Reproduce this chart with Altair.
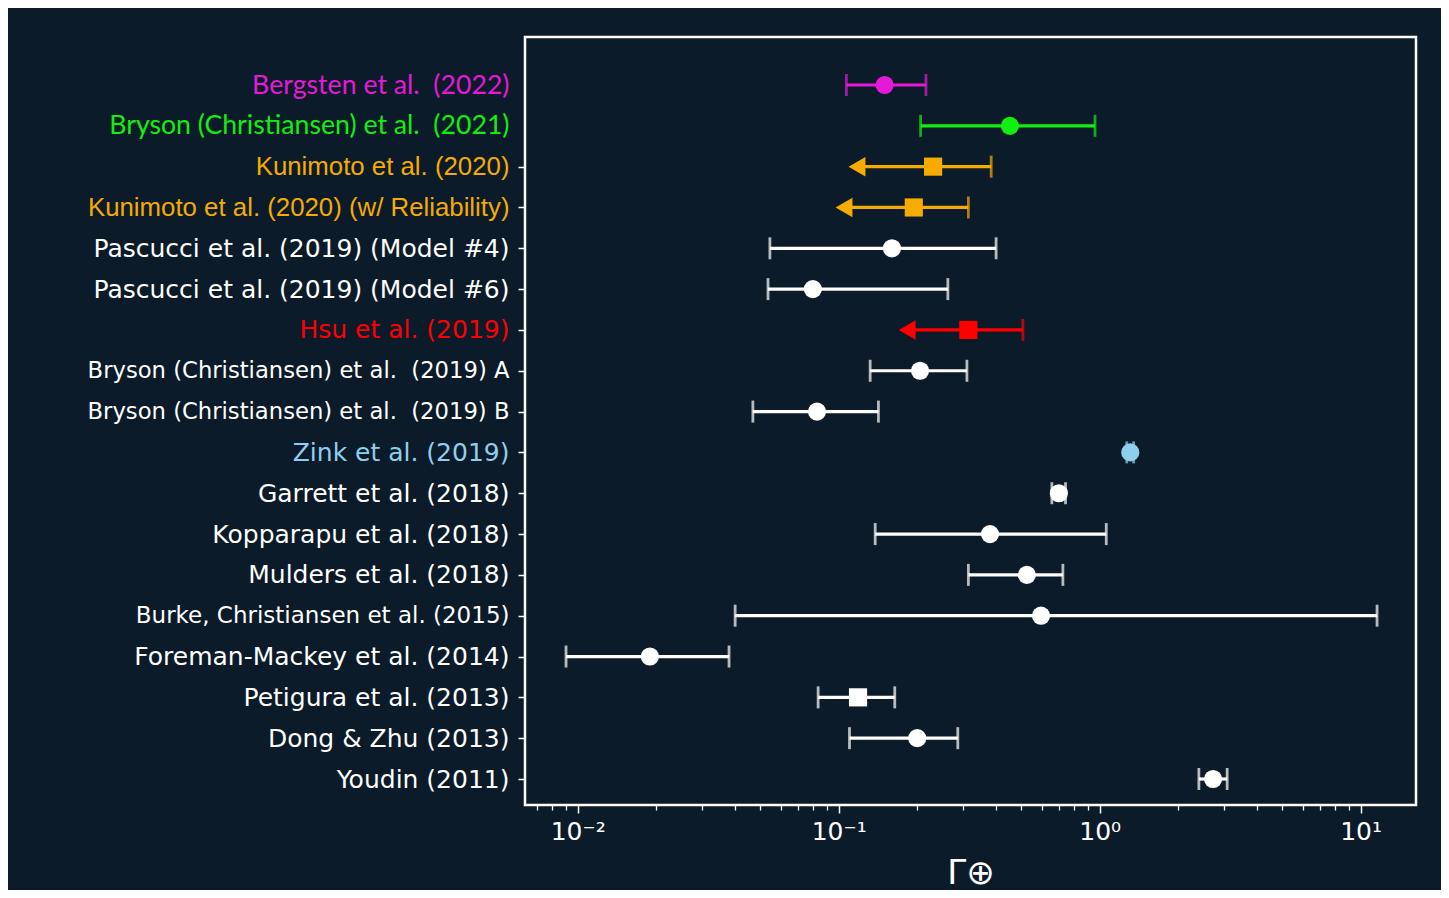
import altair as alt
import pandas as pd
import json

# ---- data ----
labels = [
    "Bergsten et al.\u00a0 (2022)",
    "Bryson (Christiansen) et al.\u00a0 (2021)",
    "Kunimoto et al. (2020)",
    "Kunimoto et al. (2020) (w/ Reliability)",
    "Pascucci et al. (2019) (Model #4)",
    "Pascucci et al. (2019) (Model #6)",
    "Hsu et al. (2019)",
    "Bryson (Christiansen) et al.\u00a0 (2019) A",
    "Bryson (Christiansen) et al.\u00a0 (2019) B",
    "Zink et al. (2019)",
    "Garrett et al. (2018)",
    "Kopparapu et al. (2018)",
    "Mulders et al. (2018)",
    "Burke, Christiansen et al. (2015)",
    "Foreman-Mackey et al. (2014)",
    "Petigura et al. (2013)",
    "Dong & Zhu (2013)",
    "Youdin (2011)",
]
center = [0.150, 0.453, 0.230, 0.194, 0.160, 0.0796, 0.314, 0.205, 0.0826, 1.31,
          0.698, 0.380, 0.526, 0.596, 0.0189, 0.1186, 0.200, 2.72]
low = [0.107, 0.206, 0.1175, 0.1048, 0.0545, 0.0536, 0.183, 0.132, 0.0469, 1.27,
       0.656, 0.138, 0.314, 0.0401, 0.00902, 0.0834, 0.110, 2.40]
high = [0.216, 0.96, 0.384, 0.314, 0.401, 0.262, 0.508, 0.310, 0.142, 1.35,
        0.74, 1.06, 0.723, 11.56, 0.038, 0.164, 0.286, 3.08]
upper_limit = [False, False, True, True, False, False, True, False, False, False,
               False, False, False, False, False, False, False, False]
marker = ["circle", "circle", "square", "square", "circle", "circle", "square", "circle",
          "circle", "circle", "circle", "circle", "circle", "circle", "circle", "square",
          "circle", "circle"]
colors = ["#e41ad8", "#12ee12", "#f5ab00", "#f5ab00", "white", "white", "#ff0000", "white",
          "white", "#8fcfee", "white", "white", "white", "white", "white", "white",
          "white", "white"]

major_ticks = [0.01, 0.1, 1, 10]
major_labels = ["10⁻²", "10⁻¹", "10⁰", "10¹"]
minor_ticks = [0.007, 0.008, 0.009,
               0.02, 0.03, 0.04, 0.05, 0.06, 0.07, 0.08, 0.09,
               0.2, 0.3, 0.4, 0.5, 0.6, 0.7, 0.8, 0.9,
               2, 3, 4, 5, 6, 7, 8, 9]

df = pd.DataFrame({
    "label": labels, "center": center, "low": low, "high": high,
    "limit": upper_limit, "marker": marker, "color": colors,
})

# ---- styling (kept apart from the data) ----
BG = "#0b1b29"
FONT = "DejaVu Sans"
LABEL_SIZE = 25
# rows whose labels were pasted in with a different typeface / size
font_override = {0: ("Lato", 26.7), 1: ("Lato", 26.7), 2: ("Liberation Sans", 25.8),
                 3: ("Liberation Sans", 25.8), 7: (FONT, 22.7), 8: (FONT, 22.7),
                 13: (FONT, 23)}
no_tick_rows = [0, 1]


def test(lab):
    return f"datum.value === {json.dumps(lab)}"


label_expr = " : ".join(
    f"datum.value == {v} ? '{t}'" for v, t in zip(major_ticks[:-1], major_labels[:-1])
) + f" : '{major_labels[-1]}'"

label_color = {
    "condition": [{"test": test(l), "value": c}
                  for l, c in zip(labels, colors) if c != "white"],
    "value": "white",
}
label_font = {
    "condition": [{"test": test(labels[i]), "value": f}
                  for i, (f, s) in font_override.items() if f != FONT],
    "value": FONT,
}
label_size = {
    "condition": [{"test": test(labels[i]), "value": s}
                  for i, (f, s) in font_override.items()],
    "value": LABEL_SIZE,
}
tick_color = {
    "condition": [{"test": test(labels[i]), "value": "transparent"} for i in no_tick_rows],
    "value": "white",
}

xscale = alt.Scale(type="log", domain=[0.00628, 16.3], nice=False)

major_axis = alt.Axis(
    values=major_ticks, labelExpr=label_expr, orient="bottom",
    tickSize=8, tickWidth=1.5, tickColor="white", labelColor="white",
    labelFont=FONT, labelFontSize=25, labelPadding=6, domain=False, grid=False,
    title="Γ⊕", titleFont=FONT, titleFontSize=34, titleColor="white",
    titleFontWeight="normal", titlePadding=12,
)
minor_axis = alt.Axis(
    values=minor_ticks, labels=False, orient="bottom", tickSize=5, tickWidth=1.3,
    tickColor="white", domain=False, grid=False, title=None,
)

yenc = alt.Y(
    "label:N", sort=labels,
    scale=alt.Scale(type="point", range=[48, 742], padding=0),
    axis=alt.Axis(
        title=None, domain=False, grid=False, tickSize=7, tickWidth=1.5,
        tickColor=tick_color, labelFont=label_font, labelFontSize=label_size,
        labelLimit=800, labelPadding=9, labelColor=label_color,
    ),
)
col = alt.Color("color:N", scale=None)

base = alt.Chart(df)

rules = base.mark_rule(strokeWidth=3.2).encode(
    x=alt.X("low:Q", scale=xscale, axis=major_axis),
    x2="high:Q", y=yenc, color=col,
)
minor = base.mark_rule(strokeWidth=3, opacity=0).encode(
    x=alt.X("center:Q", scale=xscale, axis=minor_axis), y=yenc,
)
cap_low = base.transform_filter("!datum.limit").mark_tick(
    orient="vertical", size=22, thickness=2.8
).encode(x=alt.X("low:Q", scale=xscale, axis=None), y=yenc, color=col)
cap_high = base.mark_tick(orient="vertical", size=22, thickness=2.8).encode(
    x=alt.X("high:Q", scale=xscale, axis=None), y=yenc, color=col
)
arrows = base.transform_filter("datum.limit").mark_point(
    shape="triangle-left", filled=True, opacity=1, size=380
).encode(x=alt.X("low:Q", scale=xscale, axis=None), y=yenc, color=col)
points = base.mark_point(filled=True, opacity=1, size=330).encode(
    x=alt.X("center:Q", scale=xscale, axis=None), y=yenc, color=col,
    shape=alt.Shape("marker:N", scale=None),
)

chart = alt.layer(rules, minor, cap_low, cap_high, arrows, points).resolve_axis(
    x="independent"
).properties(
    width=891, height=768,
    autosize=alt.AutoSizeParams(type="none"),
    padding={"left": 517, "top": 29, "right": 25, "bottom": 85},
    background=BG,
).configure_view(stroke="white", strokeWidth=2.5)

chart.save("out.html", embed_options={"renderer": "svg", "actions": False})
